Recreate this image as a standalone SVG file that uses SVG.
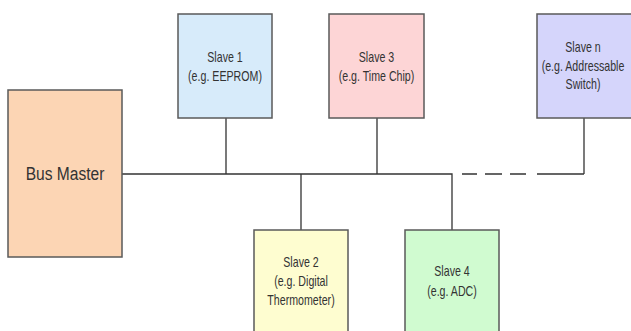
<svg xmlns="http://www.w3.org/2000/svg" width="631" height="331" viewBox="0 0 631 331">
<style>
.box{stroke:#5a5a5a;stroke-width:1.5}
.lbl{font-family:"Liberation Sans",Arial,sans-serif;font-size:14px;fill:#333;text-anchor:middle}
.big{font-size:19px}
.wire{stroke:#333;stroke-width:1.3;fill:none}
</style>
<rect width="631" height="331" fill="#fff"/>
<g id="connectors">
<path class="wire" d="M122 174H452V230"/>
<path class="wire" d="M226 118V174M377 118V174M301 174V230"/>
<path class="wire" d="M584 118V174"/>
<line class="wire" x1="462" y1="174" x2="584" y2="174" stroke-dasharray="15 8 17 8 16 11 47"/>
</g>
<g id="bus-master">
<rect class="box" x="8" y="90" width="114" height="167" fill="#fcd5b4"/>
<text class="lbl big" transform="translate(65 180) scale(0.82 1)">Bus Master</text>
</g>
<g id="slave1">
<rect class="box" x="178" y="14" width="94" height="104" fill="#d7ebfa"/>
<text class="lbl" transform="translate(225 62) scale(0.76 1)">Slave 1</text>
<text class="lbl" transform="translate(225 81) scale(0.76 1)">(e.g. EEPROM)</text>
</g>
<g id="slave3">
<rect class="box" x="329" y="14" width="95" height="104" fill="#fdd5d6"/>
<text class="lbl" transform="translate(376.5 62) scale(0.76 1)">Slave 3</text>
<text class="lbl" transform="translate(376.5 81) scale(0.76 1)">(e.g. Time Chip)</text>
</g>
<g id="slaven">
<rect class="box" x="537" y="14" width="96" height="104" fill="#d5d5fb"/>
<text class="lbl" transform="translate(583 52) scale(0.76 1)">Slave n</text>
<text class="lbl" transform="translate(583 70.5) scale(0.76 1)">(e.g. Addressable</text>
<text class="lbl" transform="translate(583 88.5) scale(0.76 1)">Switch)</text>
</g>
<g id="slave2">
<rect class="box" x="254" y="230" width="94" height="110" fill="#fefdd0"/>
<text class="lbl" transform="translate(301 267) scale(0.76 1)">Slave 2</text>
<text class="lbl" transform="translate(301 286) scale(0.76 1)">(e.g. Digital</text>
<text class="lbl" transform="translate(301 305) scale(0.76 1)">Thermometer)</text>
</g>
<g id="slave4">
<rect class="box" x="405" y="230" width="94" height="110" fill="#d0fbd0"/>
<text class="lbl" transform="translate(452 276) scale(0.76 1)">Slave 4</text>
<text class="lbl" transform="translate(452 295.5) scale(0.76 1)">(e.g. ADC)</text>
</g>
</svg>
